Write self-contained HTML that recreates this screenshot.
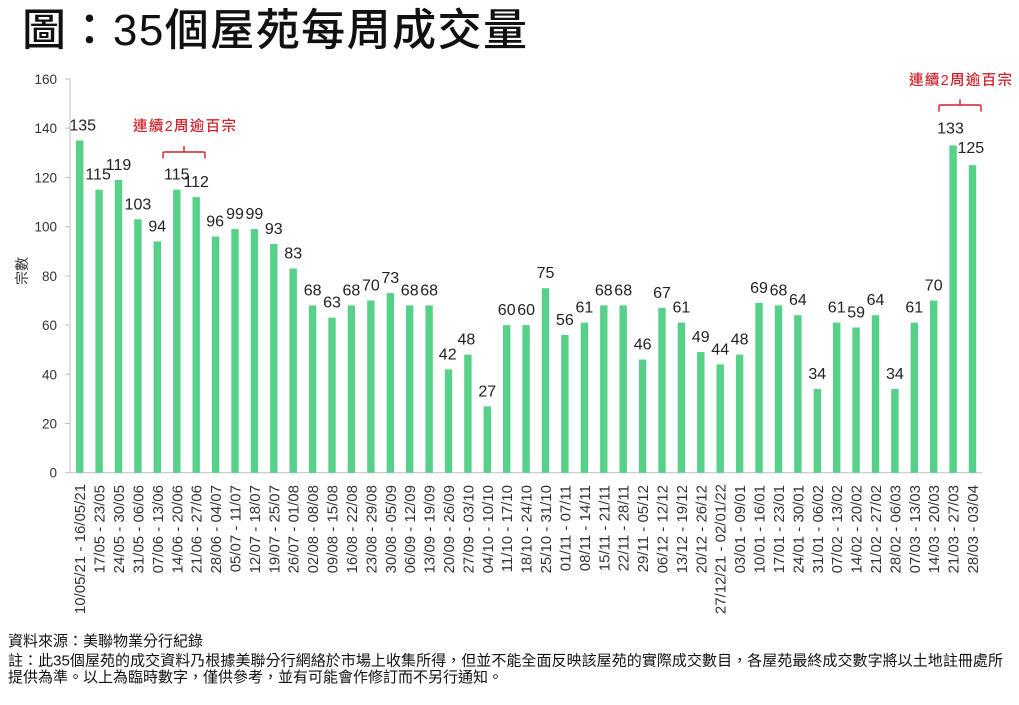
<!DOCTYPE html>
<html lang="zh-Hant">
<head>
<meta charset="utf-8">
<style>
  html, body { margin: 0; padding: 0; background: #ffffff; }
  body { width: 1019px; height: 705px; overflow: hidden; }
  svg { display: block; }
  .lat { font-family: "Liberation Sans", "Noto Sans CJK TC", sans-serif; }
  .cjk { font-family: "Liberation Sans", "Noto Sans CJK TC", sans-serif; }
</style>
</head>
<body>
<svg width="1019" height="705" viewBox="0 0 1019 705" xmlns="http://www.w3.org/2000/svg" xml:lang="zh-Hant" lang="zh-Hant">
  <rect x="0" y="0" width="1019" height="705" fill="#ffffff"/>

  <!-- Title -->
  <text class="cjk" x="22" y="45" font-size="44" font-weight="500" fill="#111" textLength="505" lengthAdjust="spacing">圖：35個屋苑每周成交量</text>

  <!-- Y axis title -->
  <text class="cjk" transform="translate(27,271) rotate(-90)" text-anchor="middle" font-size="14" fill="#333">宗數</text>

  <!-- Axes -->
  <line x1="70" y1="79" x2="70" y2="472.7" stroke="#bfbfbf" stroke-width="1"/>
  <line x1="70" y1="472.7" x2="982" y2="472.7" stroke="#bfbfbf" stroke-width="1"/>
  <g stroke="#bfbfbf" stroke-width="1">
    <line x1="65" y1="79.0" x2="70" y2="79.0"/>
    <line x1="65" y1="128.2" x2="70" y2="128.2"/>
    <line x1="65" y1="177.5" x2="70" y2="177.5"/>
    <line x1="65" y1="226.7" x2="70" y2="226.7"/>
    <line x1="65" y1="275.9" x2="70" y2="275.9"/>
    <line x1="65" y1="325.1" x2="70" y2="325.1"/>
    <line x1="65" y1="374.3" x2="70" y2="374.3"/>
    <line x1="65" y1="423.5" x2="70" y2="423.5"/>
    <line x1="65" y1="472.7" x2="70" y2="472.7"/>
  </g>
  <g class="lat" font-size="13.5" fill="#333" text-anchor="end">
    <text x="57" y="84">160</text>
    <text x="57" y="133.2">140</text>
    <text x="57" y="182.5">120</text>
    <text x="57" y="231.7">100</text>
    <text x="57" y="280.9">80</text>
    <text x="57" y="330.1">60</text>
    <text x="57" y="379.3">40</text>
    <text x="57" y="428.5">20</text>
    <text x="57" y="477.7">0</text>
  </g>

  <!-- Bars -->
  <g fill="#57d08a">
    <rect x="76.0" y="140.5" width="7.4" height="332.2"/>
    <rect x="95.4" y="189.7" width="7.4" height="283.0"/>
    <rect x="114.8" y="179.9" width="7.4" height="292.8"/>
    <rect x="134.2" y="219.3" width="7.4" height="253.4"/>
    <rect x="153.6" y="241.4" width="7.4" height="231.3"/>
    <rect x="173.1" y="189.7" width="7.4" height="283.0"/>
    <rect x="192.5" y="197.1" width="7.4" height="275.6"/>
    <rect x="211.9" y="236.5" width="7.4" height="236.2"/>
    <rect x="231.3" y="229.1" width="7.4" height="243.6"/>
    <rect x="250.7" y="229.1" width="7.4" height="243.6"/>
    <rect x="270.1" y="243.9" width="7.4" height="228.8"/>
    <rect x="289.5" y="268.5" width="7.4" height="204.2"/>
    <rect x="308.9" y="305.4" width="7.4" height="167.3"/>
    <rect x="328.3" y="317.7" width="7.4" height="155.0"/>
    <rect x="347.7" y="305.4" width="7.4" height="167.3"/>
    <rect x="367.2" y="300.5" width="7.4" height="172.2"/>
    <rect x="386.6" y="293.1" width="7.4" height="179.6"/>
    <rect x="406.0" y="305.4" width="7.4" height="167.3"/>
    <rect x="425.4" y="305.4" width="7.4" height="167.3"/>
    <rect x="444.8" y="369.4" width="7.4" height="103.3"/>
    <rect x="464.2" y="354.6" width="7.4" height="118.1"/>
    <rect x="483.6" y="406.3" width="7.4" height="66.4"/>
    <rect x="503.0" y="325.1" width="7.4" height="147.6"/>
    <rect x="522.4" y="325.1" width="7.4" height="147.6"/>
    <rect x="541.8" y="288.2" width="7.4" height="184.5"/>
    <rect x="561.2" y="334.9" width="7.4" height="137.8"/>
    <rect x="580.7" y="322.6" width="7.4" height="150.1"/>
    <rect x="600.1" y="305.4" width="7.4" height="167.3"/>
    <rect x="619.5" y="305.4" width="7.4" height="167.3"/>
    <rect x="638.9" y="359.5" width="7.4" height="113.2"/>
    <rect x="658.3" y="307.8" width="7.4" height="164.9"/>
    <rect x="677.7" y="322.6" width="7.4" height="150.1"/>
    <rect x="697.1" y="352.1" width="7.4" height="120.6"/>
    <rect x="716.5" y="364.4" width="7.4" height="108.3"/>
    <rect x="735.9" y="354.6" width="7.4" height="118.1"/>
    <rect x="755.3" y="302.9" width="7.4" height="169.8"/>
    <rect x="774.8" y="305.4" width="7.4" height="167.3"/>
    <rect x="794.2" y="315.2" width="7.4" height="157.5"/>
    <rect x="813.6" y="389.0" width="7.4" height="83.7"/>
    <rect x="833.0" y="322.6" width="7.4" height="150.1"/>
    <rect x="852.4" y="327.5" width="7.4" height="145.2"/>
    <rect x="871.8" y="315.2" width="7.4" height="157.5"/>
    <rect x="891.2" y="389.0" width="7.4" height="83.7"/>
    <rect x="910.6" y="322.6" width="7.4" height="150.1"/>
    <rect x="930.0" y="300.5" width="7.4" height="172.2"/>
    <rect x="949.4" y="145.4" width="7.4" height="327.3"/>
    <rect x="968.8" y="165.1" width="7.4" height="307.6"/>
  </g>

  <!-- Data labels -->
  <g class="lat" font-size="16" fill="#222" text-anchor="middle">
    <text x="82.7" y="130.5">135</text>
    <text x="98.1" y="179.7">115</text>
    <text x="118.5" y="169.9">119</text>
    <text x="137.9" y="209.3">103</text>
    <text x="157.3" y="231.4">94</text>
    <text x="176.8" y="179.7">115</text>
    <text x="196.2" y="187.1">112</text>
    <text x="215.1" y="226.5">96</text>
    <text x="235.0" y="219.1">99</text>
    <text x="254.4" y="219.1">99</text>
    <text x="273.8" y="233.9">93</text>
    <text x="293.2" y="258.5">83</text>
    <text x="312.6" y="295.4">68</text>
    <text x="332.0" y="307.7">63</text>
    <text x="351.4" y="295.4">68</text>
    <text x="370.9" y="290.5">70</text>
    <text x="390.3" y="283.1">73</text>
    <text x="409.7" y="295.4">68</text>
    <text x="429.1" y="295.4">68</text>
    <text x="447.7" y="359.4">42</text>
    <text x="466.4" y="344.6">48</text>
    <text x="487.3" y="396.3">27</text>
    <text x="506.7" y="315.1">60</text>
    <text x="526.1" y="315.1">60</text>
    <text x="545.5" y="278.2">75</text>
    <text x="564.9" y="324.9">56</text>
    <text x="584.4" y="312.6">61</text>
    <text x="603.8" y="295.4">68</text>
    <text x="623.2" y="295.4">68</text>
    <text x="642.6" y="349.5">46</text>
    <text x="662.0" y="297.8">67</text>
    <text x="681.4" y="312.6">61</text>
    <text x="700.8" y="342.1">49</text>
    <text x="720.2" y="354.4">44</text>
    <text x="739.6" y="344.6">48</text>
    <text x="759.0" y="292.9">69</text>
    <text x="778.5" y="295.4">68</text>
    <text x="797.9" y="305.2">64</text>
    <text x="817.3" y="379.0">34</text>
    <text x="836.7" y="312.6">61</text>
    <text x="856.1" y="317.5">59</text>
    <text x="875.5" y="305.2">64</text>
    <text x="894.9" y="379.0">34</text>
    <text x="914.3" y="312.6">61</text>
    <text x="933.7" y="290.5">70</text>
    <text x="950.5" y="133.4">133</text>
    <text x="970.8" y="153.1">125</text>
  </g>

  <!-- X category labels -->
  <g class="lat" font-size="15" fill="#333" text-anchor="end">
    <text transform="translate(85.2,484) rotate(-90)">10/05/21 - 16/05/21</text>
    <text transform="translate(104.6,485) rotate(-90)">17/05 - 23/05</text>
    <text transform="translate(124.0,485) rotate(-90)">24/05 - 30/05</text>
    <text transform="translate(143.4,485) rotate(-90)">31/05 - 06/06</text>
    <text transform="translate(162.8,485) rotate(-90)">07/06 - 13/06</text>
    <text transform="translate(182.3,485) rotate(-90)">14/06 - 20/06</text>
    <text transform="translate(201.7,485) rotate(-90)">21/06 - 27/06</text>
    <text transform="translate(221.1,485) rotate(-90)">28/06 - 04/07</text>
    <text transform="translate(240.5,485) rotate(-90)">05/07 - 11/07</text>
    <text transform="translate(259.9,485) rotate(-90)">12/07 - 18/07</text>
    <text transform="translate(279.3,485) rotate(-90)">19/07 - 25/07</text>
    <text transform="translate(298.7,485) rotate(-90)">26/07 - 01/08</text>
    <text transform="translate(318.1,485) rotate(-90)">02/08 - 08/08</text>
    <text transform="translate(337.5,485) rotate(-90)">09/08 - 15/08</text>
    <text transform="translate(356.9,485) rotate(-90)">16/08 - 22/08</text>
    <text transform="translate(376.4,485) rotate(-90)">23/08 - 29/08</text>
    <text transform="translate(395.8,485) rotate(-90)">30/08 - 05/09</text>
    <text transform="translate(415.2,485) rotate(-90)">06/09 - 12/09</text>
    <text transform="translate(434.6,485) rotate(-90)">13/09 - 19/09</text>
    <text transform="translate(454.0,485) rotate(-90)">20/09 - 26/09</text>
    <text transform="translate(473.4,485) rotate(-90)">27/09 - 03/10</text>
    <text transform="translate(492.8,485) rotate(-90)">04/10 - 10/10</text>
    <text transform="translate(512.2,485) rotate(-90)">11/10 - 17/10</text>
    <text transform="translate(531.6,485) rotate(-90)">18/10 - 24/10</text>
    <text transform="translate(551.0,485) rotate(-90)">25/10 - 31/10</text>
    <text transform="translate(570.4,485) rotate(-90)">01/11 - 07/11</text>
    <text transform="translate(589.9,485) rotate(-90)">08/11 - 14/11</text>
    <text transform="translate(609.3,485) rotate(-90)">15/11 - 21/11</text>
    <text transform="translate(628.7,485) rotate(-90)">22/11 - 28/11</text>
    <text transform="translate(648.1,485) rotate(-90)">29/11 - 05/12</text>
    <text transform="translate(667.5,485) rotate(-90)">06/12 - 12/12</text>
    <text transform="translate(686.9,485) rotate(-90)">13/12 - 19/12</text>
    <text transform="translate(706.3,485) rotate(-90)">20/12 - 26/12</text>
    <text transform="translate(725.7,484) rotate(-90)">27/12/21 - 02/01/22</text>
    <text transform="translate(745.1,485) rotate(-90)">03/01 - 09/01</text>
    <text transform="translate(764.5,485) rotate(-90)">10/01 - 16/01</text>
    <text transform="translate(784.0,485) rotate(-90)">17/01 - 23/01</text>
    <text transform="translate(803.4,485) rotate(-90)">24/01 - 30/01</text>
    <text transform="translate(822.8,485) rotate(-90)">31/01 - 06/02</text>
    <text transform="translate(842.2,485) rotate(-90)">07/02 - 13/02</text>
    <text transform="translate(861.6,485) rotate(-90)">14/02 - 20/02</text>
    <text transform="translate(881.0,485) rotate(-90)">21/02 - 27/02</text>
    <text transform="translate(900.4,485) rotate(-90)">28/02 - 06/03</text>
    <text transform="translate(919.8,485) rotate(-90)">07/03 - 13/03</text>
    <text transform="translate(939.2,485) rotate(-90)">14/03 - 20/03</text>
    <text transform="translate(958.6,485) rotate(-90)">21/03 - 27/03</text>
    <text transform="translate(978.0,485) rotate(-90)">28/03 - 03/04</text>
  </g>

  <!-- Red annotations -->
  <g class="cjk" font-size="14.5" font-weight="500" fill="#d0202a">
    <text x="133" y="131" textLength="103" lengthAdjust="spacing">連續2周逾百宗</text>
    <text x="909" y="85" textLength="103" lengthAdjust="spacing">連續2周逾百宗</text>
  </g>
  <g fill="none" stroke="#d0202a" stroke-width="1.4">
    <path d="M163,158.5 V153.5 Q163,152 164.5,152 H203.5 Q205,152 205,153.5 V158.5 M184,152 V146"/>
    <path d="M939,111.7 V106.5 Q939,105 940.5,105 H979.5 Q981,105 981,106.5 V111.7 M960,105 V99.3"/>
  </g>

  <!-- Footnotes -->
  <g class="cjk" font-size="15" fill="#111" xml:lang="zh-Hant" lang="zh-Hant">
    <text x="8" y="646">資料來源：美聯物業分行紀錄</text>
    <text x="8" y="665.5" textLength="995" lengthAdjust="spacing">註：此35個屋苑的成交資料乃根據美聯分行網絡於市場上收集所得，但並不能全面反映該屋苑的實際成交數目，各屋苑最終成交數字將以土地註冊處所</text>
    <text x="8" y="682">提供為準。以上為臨時數字，僅供參考，並有可能會作修訂而不另行通知。</text>
  </g>
</svg>
</body>
</html>
